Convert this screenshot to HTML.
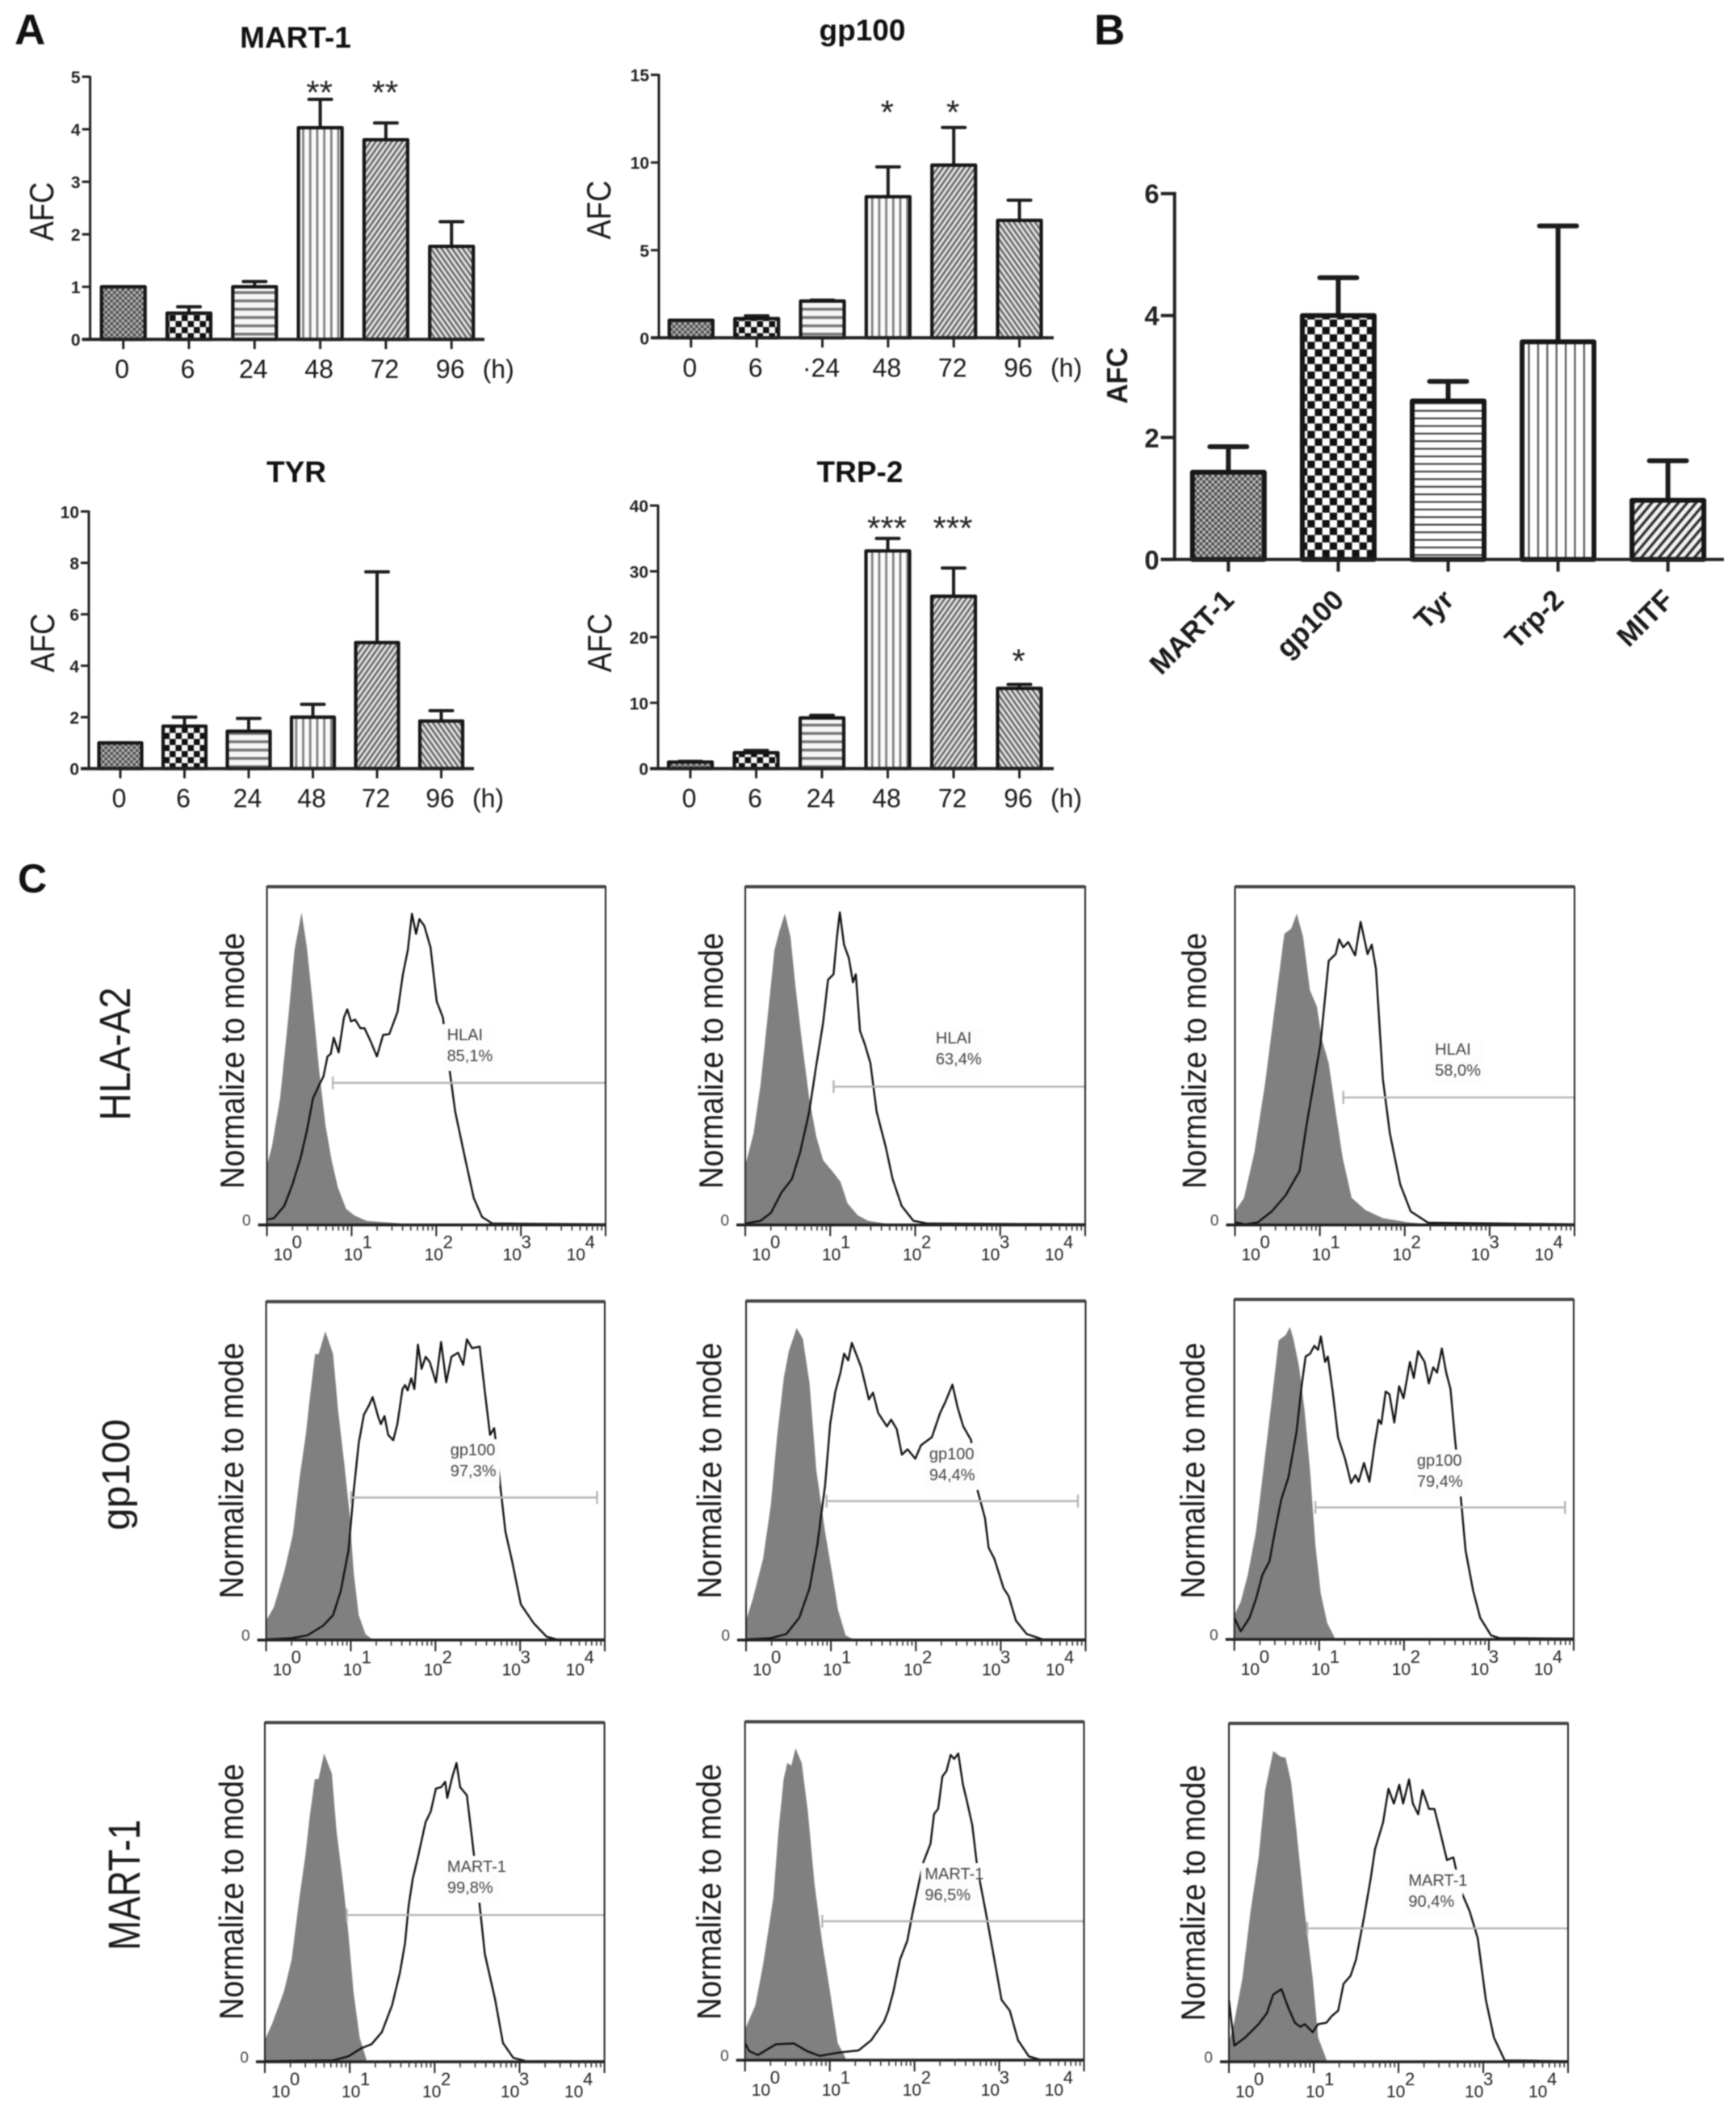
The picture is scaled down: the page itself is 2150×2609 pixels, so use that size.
<!DOCTYPE html>
<html lang="en">
<head>
<meta charset="utf-8">
<title>Melanoma antigen expression figure</title>
<style>
html,body{margin:0;padding:0;background:#fff;}
#figure{display:block;width:2150px;height:2609px;filter:blur(0.9px);}
text{font-family:"Liberation Sans",Arial,sans-serif;}
</style>
</head>
<body>
<svg id="figure" xmlns="http://www.w3.org/2000/svg" width="2150" height="2609" viewBox="0 0 2150 2609">
<defs>
<pattern id="pCheckFine" width="7" height="7" patternUnits="userSpaceOnUse"><rect width="7" height="7" fill="#505050"/><rect width="3.5" height="3.5" fill="#b0b0b0"/><rect x="3.5" y="3.5" width="3.5" height="3.5" fill="#b0b0b0"/></pattern>
<pattern id="pCheck" width="15" height="15" patternUnits="userSpaceOnUse"><rect width="15" height="15" fill="#f6f6f6"/><rect width="7.5" height="7.5" fill="#111"/><rect x="7.5" y="7.5" width="7.5" height="7.5" fill="#111"/></pattern>
<pattern id="pHoriz" width="10.3" height="10.3" patternUnits="userSpaceOnUse"><rect width="10.3" height="10.3" fill="#f6f6f6"/><rect y="0" width="10.3" height="3.5" fill="#777"/></pattern>
<pattern id="pVert" width="8.7" height="8.7" patternUnits="userSpaceOnUse"><rect width="8.7" height="8.7" fill="#fbfbfb"/><rect x="0" width="2.8" height="8.7" fill="#808080"/></pattern>
<pattern id="pDiagUp" width="5.4" height="5.4" patternUnits="userSpaceOnUse" patternTransform="rotate(35)"><rect width="5.4" height="5.4" fill="#e6e6e6"/><rect width="2.6" height="5.4" fill="#686868"/></pattern>
<pattern id="pDiagDown" width="5.4" height="5.4" patternUnits="userSpaceOnUse" patternTransform="rotate(-35)"><rect width="5.4" height="5.4" fill="#e6e6e6"/><rect width="2.6" height="5.4" fill="#686868"/></pattern>
<pattern id="bCheckFine" width="7.3" height="7.3" patternUnits="userSpaceOnUse"><rect width="7.3" height="7.3" fill="#4a4a4a"/><rect width="3.65" height="3.65" fill="#bdbdbd"/><rect x="3.65" y="3.65" width="3.65" height="3.65" fill="#bdbdbd"/></pattern>
<pattern id="bCheck" width="18.4" height="18.4" patternUnits="userSpaceOnUse"><rect width="18.4" height="18.4" fill="#fff"/><rect width="9.2" height="9.2" fill="#111"/><rect x="9.2" y="9.2" width="9.2" height="9.2" fill="#111"/></pattern>
<pattern id="bHoriz" width="9.4" height="9.4" patternUnits="userSpaceOnUse"><rect width="9.4" height="9.4" fill="#fff"/><rect width="9.4" height="2.2" fill="#444"/></pattern>
<pattern id="bVert" width="11.4" height="11.4" patternUnits="userSpaceOnUse"><rect width="11.4" height="11.4" fill="#fff"/><rect width="2.2" height="11.4" fill="#555"/></pattern>
<pattern id="bDiag" width="8.4" height="8.4" patternUnits="userSpaceOnUse" patternTransform="rotate(40)"><rect width="8.4" height="8.4" fill="#f2f2f2"/><rect width="3.4" height="8.4" fill="#333"/></pattern>
</defs>
</svg>
<script>
// ---- Panel A: fold-change bar charts ----
const hours = ['0','6','24','48','72','96'];
const gpHourLabels = ['0','6','·24','48','72','96'];

const martValues = [1, 0.5, 1, 4.03, 3.8, 1.77];
const martUpper = [1, 0.62, 1.1, 4.57, 4.12, 2.24];
const martStars = ['', '', '', '**', '**', ''];
const martStarLevels = [0, 0, 0, 4.85, 4.85, 0];
const martTicks = [0, 1, 2, 3, 4, 5];

const gpValues = [1, 1.1, 2.1, 8.05, 9.85, 6.7];
const gpUpper = [1, 1.25, 2.15, 9.75, 12, 7.85];
const gpStars = ['', '', '', '*', '*', ''];
const gpStarLevels = [0, 0, 0, 13.3, 13.3, 0];
const gpTicks = [0, 5, 10, 15];

const tyrValues = [1, 1.65, 1.45, 2, 4.9, 1.85];
const tyrUpper = [1, 2, 1.95, 2.5, 7.65, 2.25];
const tyrStars = ['', '', '', '', '', ''];
const tyrStarLevels = [0, 0, 0, 0, 0, 0];
const tyrTicks = [0, 2, 4, 6, 8, 10];

const trpValues = [1, 2.4, 7.7, 33.1, 26.2, 12.2];
const trpUpper = [1.1, 2.75, 8.1, 35, 30.5, 12.8];
const trpStars = ['', '', '', '***', '***', '*'];
const trpStarLevels = [0, 0, 0, 37.7, 37.7, 17.5];
const trpTicks = [0, 10, 20, 30, 40];

// ---- Panel B ----
const antigenNames = ['MART-1', 'gp100', 'Tyr', 'Trp-2', 'MITF'];
const antigenValues = [1.43, 4, 2.6, 3.57, 0.97];
const antigenUpper = [1.85, 4.62, 2.92, 5.47, 1.62];
const antigenTicks = [0, 2, 4, 6];

// ---- Panel C: flow histograms, pairs of [channel, count] ----
const r1c1Fill = [[0,220],[12,290],[32,470],[52,770],[67,1020],[84,1160],[97,1030],[112,810],[127,570],[142,370],[157,240],[172,140],[192,60],[212,35],[242,15],[302,8],[352,2]];
const r1c1Line = [[0,20],[17,25],[42,70],[62,150],[82,250],[97,350],[112,470],[127,520],[137,550],[147,625],[155,635],[162,695],[174,640],[187,770],[195,800],[204,755],[214,762],[227,730],[237,730],[252,680],[267,625],[282,705],[297,708],[317,790],[330,930],[342,1020],[352,1155],[362,1080],[370,1135],[382,1110],[397,1030],[412,830],[427,770],[442,590],[457,420],[482,240],[502,100],[522,30],[547,5],[822,2]];
const r1c2Fill = [[0,220],[12,340],[22,520],[32,770],[42,1020],[49,1090],[57,1155],[65,1070],[72,890],[82,670],[92,470],[102,330],[112,240],[125,200],[137,160],[147,80],[162,35],[177,15],[202,5]];
const r1c2Line = [[0,5],[22,15],[37,45],[52,120],[67,170],[79,270],[92,420],[102,590],[112,750],[119,910],[127,930],[132,1070],[136,1160],[142,1040],[149,990],[155,900],[159,930],[165,720],[172,670],[180,600],[189,420],[202,290],[212,170],[225,70],[242,15],[262,5],[489,2]];
const r1c3Fill = [[0,50],[13,100],[28,270],[43,520],[58,820],[71,1080],[81,1100],[89,1155],[98,1070],[108,870],[118,810],[125,690],[135,600],[145,420],[155,250],[168,100],[188,55],[213,25],[248,10],[273,4]];
const r1c3Line = [[0,10],[15,2],[33,10],[53,50],[73,110],[93,200],[103,370],[113,520],[123,670],[135,980],[145,1005],[150,1060],[156,1030],[163,1050],[173,1000],[181,1125],[191,1005],[197,1040],[203,950],[213,540],[223,340],[238,150],[253,50],[278,8],[488,2]];
const r2c1Fill = [[0,72],[15,122],[35,252],[52,392],[65,602],[77,762],[85,902],[95,1062],[102,1062],[115,1147],[130,1062],[140,852],[152,652],[162,472],[170,252],[180,92],[193,22],[205,4]];
const r2c1Line = [[0,2],[50,7],[80,17],[110,52],[130,92],[145,182],[160,332],[170,552],[180,732],[190,837],[200,872],[207,902],[218,827],[223,802],[230,832],[237,762],[247,742],[255,802],[265,932],[270,947],[275,927],[282,972],[288,932],[295,1097],[302,1007],[310,1052],[318,1032],[330,957],[340,1107],[350,957],[360,1052],[373,1067],[383,1022],[390,1117],[400,1084],[415,1090],[425,922],[435,762],[443,787],[448,712],[455,572],[465,402],[478,292],[495,132],[520,62],[545,12],[565,2],[658,2]];
const r2c2Fill = [[0,72],[13,152],[33,302],[48,502],[60,752],[73,972],[83,1072],[98,1157],[110,1117],[123,952],[136,632],[153,402],[168,232],[178,112],[193,17],[208,2]];
const r2c2Line = [[0,2],[48,7],[78,22],[103,82],[123,192],[138,352],[153,572],[163,802],[173,922],[183,992],[190,1062],[198,1037],[205,1102],[213,1062],[223,1012],[238,892],[246,917],[256,842],[273,792],[281,817],[292,782],[302,687],[313,707],[328,672],[339,722],[360,752],[376,842],[386,882],[400,947],[410,862],[421,792],[436,742],[449,552],[463,452],[470,342],[481,302],[499,192],[509,162],[523,72],[544,22],[575,2],[658,2]];
const r2c3Fill = [[0,90],[12,140],[25,240],[40,400],[55,650],[70,900],[82,1110],[95,1130],[103,1160],[110,1110],[120,1010],[130,850],[140,630],[150,350],[160,170],[172,60],[185,10]];
const r2c3Line = [[0,80],[12,30],[28,80],[40,150],[52,240],[65,290],[75,400],[87,520],[100,600],[115,770],[125,950],[132,1050],[140,1060],[148,1090],[155,1075],[160,1125],[168,1030],[173,1050],[182,920],[192,750],[205,670],[216,580],[224,610],[230,585],[240,655],[250,585],[260,730],[267,815],[272,800],[280,920],[287,910],[296,805],[305,940],[313,895],[325,1030],[332,970],[340,1070],[352,1030],[360,950],[368,1010],[375,990],[384,1080],[392,990],[400,930],[408,750],[418,550],[428,330],[442,180],[455,80],[475,15],[490,5],[628,3]];
const r3c1Fill = [[0,80],[14,140],[37,260],[52,380],[67,610],[79,770],[87,910],[97,1050],[104,1050],[115,1145],[130,1070],[139,860],[152,660],[162,480],[172,260],[184,90],[197,10]];
const r3c1Line = [[0,2],[132,5],[162,20],[187,50],[207,65],[227,110],[247,210],[262,330],[272,440],[279,580],[287,680],[297,760],[312,890],[322,930],[332,1015],[342,1020],[350,1040],[354,980],[364,1060],[372,1110],[379,1020],[392,990],[402,830],[417,580],[427,400],[447,230],[462,70],[482,15],[507,2],[659,2]];
const r3c2Fill = [[0,114],[20,204],[35,354],[55,604],[65,854],[75,1044],[82,1104],[90,1094],[98,1159],[110,1104],[122,924],[135,654],[150,434],[165,254],[180,64],[195,9]];
const r3c2Line = [[0,64],[8,34],[25,19],[60,59],[95,62],[120,34],[145,16],[185,29],[220,36],[245,74],[270,144],[278,184],[288,254],[301,374],[315,444],[325,544],[336,644],[346,734],[360,804],[367,914],[375,934],[383,1054],[391,1074],[399,1134],[406,1119],[414,1139],[423,1024],[430,969],[441,874],[451,714],[467,554],[483,384],[498,224],[514,184],[530,74],[551,14],[572,2],[658,2]];
const r3c3Fill = [[0,70],[10,150],[25,310],[40,560],[55,760],[67,1010],[82,1155],[95,1135],[105,1130],[115,1040],[125,860],[140,560],[155,310],[165,90],[180,10]];
const r3c3Line = [[0,230],[10,60],[30,90],[55,140],[70,180],[82,250],[97,270],[110,200],[122,145],[132,130],[140,140],[155,110],[165,140],[180,145],[190,170],[202,190],[212,290],[225,320],[235,380],[250,540],[262,680],[270,790],[285,890],[295,1015],[305,960],[315,1030],[322,960],[333,1050],[340,960],[350,920],[358,1010],[370,940],[380,940],[390,860],[403,750],[415,760],[428,640],[445,560],[460,460],[475,230],[490,90],[510,5],[627,2]];
const decades = [0, 1, 2, 3, 4];
const minorSteps = [2, 3, 4, 5, 6, 7, 8, 9];
const decadeLabels = ['10', '10', '10', '10', '10'];
const decadeExponents = ['0', '1', '2', '3', '4'];

const NS = 'http://www.w3.org/2000/svg';
const svg = document.getElementById('figure');

function add(parent, tag, attrs, text) {
  const el = document.createElementNS(NS, tag);
  for (const k in attrs) el.setAttribute(k, attrs[k]);
  if (text !== undefined) el.textContent = text;
  parent.appendChild(el);
  return el;
}

function vText(parent, str, baseX, centerY, size, weight, len) {
  const attrs = {transform: 'translate(' + baseX + ',' + centerY + ') rotate(-90)', 'text-anchor': 'middle', 'font-size': size, 'font-weight': weight, fill: '#1a1a1a'};
  if (len) { attrs.textLength = len; attrs.lengthAdjust = 'spacingAndGlyphs'; }
  return add(parent, 'text', attrs, str);
}

function drawBarPanel(c) {
  const g = add(svg, 'g', {});
  
  
  const yMax = c.ticks[c.ticks.length - 1];
  const yScale = v => c.y0 + (c.yTop - c.y0) * v / yMax;
  const xScale = i => c.x0 + c.step * i;

  const title = add(g, 'text', {x: c.titleX, y: c.titleY, 'text-anchor': 'middle', 'font-size': 37, 'font-weight': 'bold', fill: '#111'}, c.title);
  
  

  const yTitle = vText(g, 'AFC', c.afcX, c.afcY, 42, 'normal', 73);
  
  

  c.values.forEach((v, i) => {
    const x = xScale(i);
    const err = add(g, 'path', {d: 'M' + x + ' ' + yScale(v) + 'V' + yScale(c.upper[i]) + 'M' + (x - 14) + ' ' + yScale(c.upper[i]) + 'H' + (x + 14), stroke: '#1c1c1c', 'stroke-width': 4, 'stroke-linecap': 'round', fill: 'none'});
    
    
    const bar = add(g, 'rect', {x: x - c.barW / 2, y: yScale(v), width: c.barW, height: c.y0 - yScale(v), fill: 'url(#' + c.patterns[i] + ')', stroke: '#161616', 'stroke-width': 4.2, 'stroke-linejoin': 'round'});
    
    
    const tick = add(g, 'line', {x1: x, x2: x, y1: c.y0, y2: c.y0 + 12, stroke: '#222', 'stroke-width': 3});
    
    
    const lab = add(g, 'text', {x: x - 1.5, y: c.y0 + 48, 'text-anchor': 'middle', 'font-size': 32, fill: '#1a1a1a'}, c.labels[i]);
    
    
    if (c.stars[i]) {
      const star = add(g, 'text', {x: x - 1, y: yScale(c.starLevels[i]) + 24, 'text-anchor': 'middle', 'font-size': 42, fill: '#222'}, c.stars[i]);
      
      
    }
  });

  const unit = add(g, 'text', {x: xScale(5) + 58, y: c.y0 + 48, 'text-anchor': 'middle', 'font-size': 32, fill: '#1a1a1a'}, '(h)');
  
  

  const yAxis = add(g, 'line', {x1: c.axisX, x2: c.axisX, y1: c.yTop - 1, y2: c.y0, stroke: '#222', 'stroke-width': 3});
  
  
  const xAxis = add(g, 'line', {x1: c.axisX - 10, x2: c.axisEnd, y1: c.y0, y2: c.y0, stroke: '#222', 'stroke-width': 4});
  
  

  c.ticks.forEach(t => {
    const y = yScale(t);
    const tk = add(g, 'line', {x1: c.axisX - 10, x2: c.axisX, y1: y, y2: y, stroke: '#222', 'stroke-width': 3});
    
    
    const tl = add(g, 'text', {x: c.axisX - 12, y: y + 8, 'text-anchor': 'end', 'font-size': 21, 'font-weight': 'bold', fill: '#222'}, String(t));
    
    
  });
}

const aPatterns = ['pCheckFine', 'pCheck', 'pHoriz', 'pVert', 'pDiagUp', 'pDiagDown'];
drawBarPanel({name: 'mart-1', title: 'MART-1', titleX: 366, titleY: 59, values: martValues, upper: martUpper, stars: martStars, starLevels: martStarLevels, ticks: martTicks, labels: hours, patterns: aPatterns, x0: 152.7, step: 81.3, barW: 54, y0: 420.2, yTop: 95, axisX: 111.6, axisEnd: 600, afcX: 66, afcY: 262});
drawBarPanel({name: 'gp100', title: 'gp100', titleX: 1068, titleY: 50, values: gpValues, upper: gpUpper, stars: gpStars, starLevels: gpStarLevels, ticks: gpTicks, labels: gpHourLabels, patterns: aPatterns, x0: 855.8, step: 81.35, barW: 54, y0: 418.3, yTop: 92.7, axisX: 816, axisEnd: 1305, afcX: 756, afcY: 260});
drawBarPanel({name: 'tyr', title: 'TYR', titleX: 367, titleY: 597, values: tyrValues, upper: tyrUpper, stars: tyrStars, starLevels: tyrStarLevels, ticks: tyrTicks, labels: hours, patterns: aPatterns, x0: 149, step: 79.5, barW: 53, y0: 951.7, yTop: 633.3, axisX: 110, axisEnd: 587, afcX: 67, afcY: 796});
drawBarPanel({name: 'trp-2', title: 'TRP-2', titleX: 1065, titleY: 597, values: trpValues, upper: trpUpper, stars: trpStars, starLevels: trpStarLevels, ticks: trpTicks, labels: hours, patterns: aPatterns, x0: 855, step: 81.5, barW: 54, y0: 951.7, yTop: 626, axisX: 815, axisEnd: 1305, afcX: 757, afcY: 796});

// Panel B chart
(function () {
  const g = add(svg, 'g', {});
  
  
  const y0 = 692.8, yTop = 239.7, axisX = 1454.7, x0 = 1521.3, step = 136.1, barW = 89;
  const yScale = v => y0 + (yTop - y0) * v / 6;
  const xScale = i => x0 + step * i;
  const fills = ['bCheckFine', 'bCheck', 'bHoriz', 'bVert', 'bDiag'];
  antigenValues.forEach((v, i) => {
    const x = xScale(i);
    const err = add(g, 'path', {d: 'M' + x + ' ' + yScale(v) + 'V' + yScale(antigenUpper[i]) + 'M' + (x - 23) + ' ' + yScale(antigenUpper[i]) + 'H' + (x + 23), stroke: '#1c1c1c', 'stroke-width': 6, 'stroke-linecap': 'round', fill: 'none'});
    
    
    const bar = add(g, 'rect', {x: x - barW / 2, y: yScale(v), width: barW, height: y0 - yScale(v), fill: 'url(#' + fills[i] + ')', stroke: '#161616', 'stroke-width': 6, 'stroke-linejoin': 'round'});
    
    
    const tick = add(g, 'line', {x1: x, x2: x, y1: y0, y2: y0 + 15, stroke: '#222', 'stroke-width': 4});
    
    
    const lab = add(g, 'text', {transform: 'translate(' + (x + 9) + ',745) rotate(-45)', 'text-anchor': 'end', 'font-size': 35, 'font-weight': 'bold', fill: '#1a1a1a'}, antigenNames[i]);
    
    
  });
  const yAxis = add(g, 'line', {x1: axisX, x2: axisX, y1: yTop - 2, y2: y0, stroke: '#222', 'stroke-width': 4});
  
  
  const xAxis = add(g, 'line', {x1: axisX - 17, x2: 2135, y1: y0, y2: y0, stroke: '#222', 'stroke-width': 4});
  
  
  antigenTicks.forEach(t => {
    const tk = add(g, 'line', {x1: axisX - 17, x2: axisX, y1: yScale(t), y2: yScale(t), stroke: '#222', 'stroke-width': 4});
    
    
    const tl = add(g, 'text', {x: axisX - 19, y: yScale(t) + 12, 'text-anchor': 'end', 'font-size': 33, 'font-weight': 'bold', fill: '#222'}, String(t));
    
    
  });
  const yTitle = vText(g, 'AFC', 1396, 465, 36, 'bold', 70);
  
  
})();

// Panel letters
[['A', 18, 55, 53], ['B', 1355, 55, 53], ['C', 22, 1105, 50]].forEach(p => {
  const t = add(svg, 'text', {x: p[1], y: p[2], 'font-size': p[3], 'font-weight': 'bold', fill: '#111'}, p[0]);
  
  
});

// Row labels
[['HLA-A2', 161, 1305, 165, 54], ['gp100', 160, 1826, 138, 48], ['MART-1', 173, 2334, 162, 56]].forEach(r => {
  const t = vText(svg, r[0], r[1], r[2], r[4], 'normal', r[3]);
  
  
});

function drawHistogram(c) {
  const g = add(svg, 'g', {});
  
  
  const w = c.right - c.left, h = c.bottom - c.top;
  const xScale = ch => c.left + w * ch / c.channelMax;
  const yScale = n => c.bottom - h * n / c.countMax;
  const decadeX = d => c.left + w * d / 4;
  const pathOf = pts => pts.map((p, i) => (i ? 'L' : 'M') + xScale(p[0]).toFixed(1) + ' ' + yScale(p[1]).toFixed(1)).join('');

  const control = add(g, 'path', {d: pathOf(c.fill) + 'L' + xScale(c.fill[c.fill.length - 1][0]) + ' ' + c.bottom + 'L' + c.left + ' ' + c.bottom + 'Z', fill: '#808080'});
  
  
  const sample = add(g, 'path', {d: pathOf(c.line), fill: 'none', stroke: '#111', 'stroke-width': 2.4, 'stroke-linejoin': 'round'});
  
  

  const gateY = yScale(c.gateCount), gx1 = xScale(c.gateFrom), gx2 = xScale(c.gateTo);
  const gate = add(g, 'path', {d: 'M' + gx1 + ' ' + (gateY - 8) + 'V' + (gateY + 8) + 'M' + gx1 + ' ' + gateY + 'H' + gx2 + (c.gateCap ? 'M' + gx2 + ' ' + (gateY - 8) + 'V' + (gateY + 8) : ''), fill: 'none', stroke: '#b5b5b5', 'stroke-width': 2.4});
  
  

  const lx = xScale(c.labelChannel);
  const bg = add(g, 'rect', {x: lx - 5, y: c.labelY - 20, width: c.marker === 'MART-1' ? 72 : 66, height: 58, fill: '#fdfdfd'});
  
  
  const l1 = add(g, 'text', {x: lx, y: c.labelY, 'font-size': 20, fill: '#444'}, c.marker);
  
  
  const l2 = add(g, 'text', {x: lx, y: c.labelY + 26, 'font-size': 20, fill: '#444'}, c.pct);
  
  

  const frame = add(g, 'rect', {x: c.left, y: c.top, width: w, height: h, fill: 'none', stroke: '#222', 'stroke-width': 2});
  
  
  const topEdge = add(g, 'line', {x1: c.left, x2: c.right, y1: c.top, y2: c.top, stroke: '#444', 'stroke-width': 4});
  
  
  const xAxis = add(g, 'line', {x1: c.left - 11, x2: c.right, y1: c.bottom, y2: c.bottom, stroke: '#222', 'stroke-width': 3.5});
  
  

  decades.forEach((d, i) => {
    const x = decadeX(d);
    const major = add(g, 'line', {x1: x, x2: x, y1: c.bottom, y2: c.bottom + 14, stroke: '#222', 'stroke-width': 2});
    
    
    if (d < 4) {
      minorSteps.forEach(m => {
        const mx = decadeX(d + Math.log10(m));
        const minor = add(g, 'line', {x1: mx, x2: mx, y1: c.bottom, y2: c.bottom + 7, stroke: '#333', 'stroke-width': 1.6});
        
        
      });
    }
    const tx = c.left + [8, 95, 195, 292, 371][i];
    const lab = add(g, 'text', {x: tx, y: c.bottom + 44, 'font-size': 21, fill: '#222'}, decadeLabels[i]);
    
    
    const exp = add(g, 'text', {x: tx + 23, y: c.bottom + 29, 'font-size': 22, fill: '#222'}, decadeExponents[i]);
    
    
  });

  const zero = add(g, 'text', {x: c.left - 20, y: c.bottom + 1, 'text-anchor': 'end', 'font-size': 19, fill: '#444'}, '0');
  
  
  const yTitle = vText(g, 'Normalize to mode', c.left + c.titleOffset, c.titleY, 42, 'normal', 317);
  
  
}

drawHistogram({marker: 'HLAI', pct: '85,1%', fill: r1c1Fill, line: r1c1Line, left: 330.6, right: 750, top: 1098, bottom: 1516.7, channelMax: 822, countMax: 1255, gateCount: 527, gateFrom: 160, gateTo: 822, gateCap: false, labelChannel: 437, labelY: 1288, titleOffset: -28.6, titleY: 1313.5});
drawHistogram({marker: 'HLAI', pct: '63,4%', fill: r1c2Fill, line: r1c2Line, left: 923, right: 1344, top: 1098, bottom: 1516.7, channelMax: 489, countMax: 1255, gateCount: 513, gateFrom: 127, gateTo: 489, gateCap: false, labelChannel: 274, labelY: 1292, titleOffset: -28, titleY: 1313.5});
drawHistogram({marker: 'HLAI', pct: '58,0%', fill: r1c3Fill, line: r1c3Line, left: 1529.5, right: 1950, top: 1098, bottom: 1516.7, channelMax: 489, countMax: 1255, gateCount: 473, gateFrom: 156, gateTo: 488, gateCap: false, labelChannel: 288, labelY: 1306, titleOffset: -36, titleY: 1313.5});
drawHistogram({marker: 'gp100', pct: '97,3%', fill: r2c1Fill, line: r2c1Line, left: 329.6, right: 749, top: 1611.7, bottom: 2030.7, channelMax: 658, countMax: 1257, gateCount: 529, gateFrom: 165, gateTo: 643, gateCap: true, labelChannel: 358, labelY: 1802, titleOffset: -28.6, titleY: 1821});
drawHistogram({marker: 'gp100', pct: '94,4%', fill: r2c2Fill, line: r2c2Line, left: 924, right: 1344.5, top: 1611, bottom: 2030.7, channelMax: 658, countMax: 1257, gateCount: 515, gateFrom: 156, gateTo: 643, gateCap: true, labelChannel: 355, labelY: 1807, titleOffset: -31, titleY: 1821});
drawHistogram({marker: 'gp100', pct: '79,4%', fill: r2c3Fill, line: r2c3Line, left: 1528.7, right: 1949, top: 1609, bottom: 2030, channelMax: 628, countMax: 1262, gateCount: 490, gateFrom: 150, gateTo: 612, gateCap: true, labelChannel: 338, labelY: 1815, titleOffset: -37, titleY: 1821});
drawHistogram({marker: 'MART-1', pct: '99,8%', fill: r3c1Fill, line: r3c1Line, left: 328, right: 748.6, top: 2133, bottom: 2553, channelMax: 659, countMax: 1260, gateCount: 545, gateFrom: 159, gateTo: 659, gateCap: false, labelChannel: 354, labelY: 2318, titleOffset: -27, titleY: 2342.5});
drawHistogram({marker: 'MART-1', pct: '96,5%', fill: r3c2Fill, line: r3c2Line, left: 922.7, right: 1342.5, top: 2132, bottom: 2551, channelMax: 658, countMax: 1257, gateCount: 516, gateFrom: 150, gateTo: 658, gateCap: false, labelChannel: 349, labelY: 2327, titleOffset: -30, titleY: 2342.5});
drawHistogram({marker: 'MART-1', pct: '90,4%', fill: r3c3Fill, line: r3c3Line, left: 1522, right: 1942, top: 2134, bottom: 2553, channelMax: 627, countMax: 1258, gateCount: 496, gateFrom: 145, gateTo: 627, gateCap: false, labelChannel: 332, labelY: 2335, titleOffset: -30, titleY: 2344});
</script>
</body>
</html>
